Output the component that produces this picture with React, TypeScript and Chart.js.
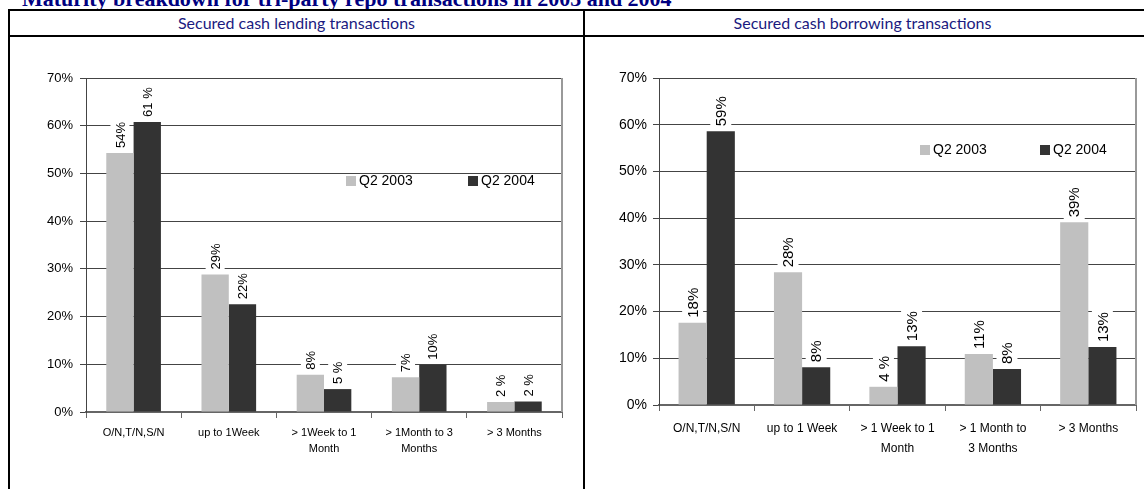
import React, { useEffect, useRef } from "react";
import { Chart, registerables } from "chart.js";

Chart.register(...registerables);

// ---------- data ----------
const seriesNames = ["Q2 2003", "Q2 2004"];
const seriesColors = ["#C0C0C0", "#333333"];

const lendingCategories: (string | string[])[] = [
  "O/N,T/N,S/N",
  "up to 1Week",
  ["> 1Week to 1", "Month"],
  ["> 1Month to 3", "Months"],
  "> 3 Months",
];
const lendingQ2003 = [54.3, 28.8, 7.8, 7.3, 2.1];
const lendingQ2004 = [60.8, 22.6, 4.8, 9.9, 2.2];
const lendingLabels2003 = ["54%", "29%", "8%", "7%", "2 %"];
const lendingLabels2004 = ["61 %", "22%", "5 %", "10%", "2 %"];

const borrowingCategories: (string | string[])[] = [
  "O/N,T/N,S/N",
  "up to 1 Week",
  ["> 1 Week to 1", "Month"],
  ["> 1 Month to", "3 Months"],
  "> 3 Months",
];
const borrowingQ2003 = [17.6, 28.4, 3.9, 10.9, 39.1];
const borrowingQ2004 = [58.6, 8.1, 12.6, 7.7, 12.4];
const borrowingLabels2003 = ["18%", "28%", "4 %", "11%", "39%"];
const borrowingLabels2004 = ["59%", "8%", "13%", "8%", "13%"];

const yTicks = [0, 10, 20, 30, 40, 50, 60, 70];

// ---------- plugins ----------
const barLabelPlugin = {
  id: "barLabels",
  afterDatasetsDraw(chart: any, _args: any, opts: any) {
    const ctx = chart.ctx;
    const labels: string[][] = opts.labels || [];
    ctx.save();
    ctx.font = `${opts.fontSize || 13}px Arial, "Liberation Sans", sans-serif`;
    chart.data.datasets.forEach((ds: any, di: number) => {
      const meta = chart.getDatasetMeta(di);
      meta.data.forEach((bar: any, i: number) => {
        const text = labels[di] ? labels[di][i] : "";
        if (!text) return;
        const w = ctx.measureText(text).width;
        const fs = opts.fontSize || 13;
        const gap = opts.gap ?? 5;
        const x = bar.x;
        const yBottom = bar.y - gap;
        // white box
        ctx.fillStyle = "#ffffff";
        ctx.fillRect(x - fs / 2 - 3, yBottom - w - 3, fs + 6, w + 5);
        ctx.save();
        ctx.translate(x, yBottom);
        ctx.rotate(-Math.PI / 2);
        ctx.fillStyle = "#000000";
        ctx.textAlign = "left";
        ctx.textBaseline = "middle";
        ctx.fillText(text, 0, 1);
        ctx.restore();
      });
    });
    ctx.restore();
  },
};

const innerLegendPlugin = {
  id: "innerLegend",
  afterDraw(chart: any, _args: any, opts: any) {
    const ctx = chart.ctx;
    const area = chart.chartArea;
    ctx.save();
    ctx.font = `${opts.fontSize || 13}px Arial, "Liberation Sans", sans-serif`;
    ctx.textBaseline = "middle";
    ctx.textAlign = "left";
    chart.data.datasets.forEach((ds: any, i: number) => {
      const x = area.left + opts.dx + i * opts.step;
      const y = area.top + opts.dy;
      ctx.fillStyle = ds.backgroundColor;
      ctx.fillRect(x, y - 5, 10, 10);
      ctx.fillStyle = "#000";
      ctx.fillText(ds.label, x + 13, y);
    });
    ctx.restore();
  },
};

const rightBorderPlugin = {
  id: "rightBorder",
  afterDraw(chart: any) {
    const ctx = chart.ctx;
    const a = chart.chartArea;
    ctx.save();
    ctx.strokeStyle = "#999999";
    ctx.lineWidth = 2;
    ctx.beginPath();
    ctx.moveTo(a.right, a.top);
    ctx.lineTo(a.right, a.bottom);
    ctx.stroke();
    ctx.restore();
  },
};

type PanelProps = {
  categories: (string | string[])[];
  q2003: number[];
  q2004: number[];
  labels2003: string[];
  labels2004: string[];
  width: number;
  height: number;
  yWidth: number;
  xHeight: number;
  padTop: number;
  padRight: number;
  tickPad: number;
  xFont: number;
  xLineHeight: number;
  xPad: number;
  yFont: number;
  labelFont: number;
  legendDx: number;
  legendDy: number;
  legendStep: number;
  catPct: number;
};

function Panel(p: PanelProps) {
  const ref = useRef<HTMLCanvasElement>(null);
  useEffect(() => {
    if (!ref.current) return;
    const chart = new Chart(ref.current, {
      type: "bar",
      data: {
        labels: p.categories as any,
        datasets: [
          {
            label: seriesNames[0],
            data: p.q2003,
            backgroundColor: seriesColors[0],
            borderWidth: 0,
            categoryPercentage: p.catPct,
            barPercentage: 1,
          },
          {
            label: seriesNames[1],
            data: p.q2004,
            backgroundColor: seriesColors[1],
            borderWidth: 0,
            categoryPercentage: p.catPct,
            barPercentage: 1,
          },
        ],
      },
      options: {
        responsive: false,
        animation: false,
        devicePixelRatio: 1,
        layout: { padding: { top: p.padTop, right: p.padRight, left: 0, bottom: 0 } },
        plugins: {
          legend: { display: false },
          tooltip: { enabled: false },
          barLabels: {
            labels: [p.labels2003, p.labels2004],
            fontSize: p.labelFont,
            gap: 5,
          },
          innerLegend: { dx: p.legendDx, dy: p.legendDy, step: p.legendStep, fontSize: 14 },
        } as any,
        scales: {
          x: {
            grid: {
              display: true,
              drawOnChartArea: false,
              drawTicks: true,
              tickLength: 6,
              color: "#666666",
              offset: true,
            },
            border: { display: true, color: "#666666", width: 2 },
            ticks: {
              color: "#000",
              padding: p.xPad,
              maxRotation: 0,
              autoSkip: false,
              font: { family: "Arial, 'Liberation Sans', sans-serif", size: p.xFont, lineHeight: p.xLineHeight },
            },
            afterFit: (s: any) => {
              s.height = p.xHeight;
            },
          },
          y: {
            min: 0,
            max: 70,
            afterBuildTicks: (s: any) => {
              s.ticks = yTicks.map((v) => ({ value: v }));
            },
            grid: { color: "#444444", lineWidth: 1, tickLength: 6 },
            border: { display: true, color: "#444444", width: 1 },
            ticks: {
              color: "#000",
              padding: p.tickPad,
              font: { family: "Arial, 'Liberation Sans', sans-serif", size: p.yFont },
              callback: (v: any) => `${v}%`,
            },
            afterFit: (s: any) => {
              s.width = p.yWidth;
            },
          },
        },
      },
      plugins: [barLabelPlugin, innerLegendPlugin, rightBorderPlugin],
    });
    return () => chart.destroy();
  }, []);
  return (
    <canvas
      ref={ref}
      width={p.width}
      height={p.height}
      style={{ width: p.width, height: p.height, display: "block" }}
    />
  );
}

const navy = "#1a1a80";

export default function App() {
  return (
    <div
      style={{
        position: "absolute",
        left: 0,
        top: 0,
        width: 1144,
        height: 489,
        overflow: "hidden",
        background: "#fff",
      }}
    >
      <div
        style={{
          position: "absolute",
          left: 22,
          top: -12,
          whiteSpace: "nowrap",
          fontFamily: "'Liberation Serif', 'Times New Roman', serif",
          fontWeight: "bold",
          fontSize: 22,
          lineHeight: "22px",
          color: "#000080",
        }}
      >
        Maturity breakdown for tri-party repo transactions in 2003 and 2004
      </div>
      {/* table lines */}
      <div style={{ position: "absolute", left: 8, top: 9, width: 1140, height: 2, background: "#000" }} />
      <div style={{ position: "absolute", left: 8, top: 35, width: 1140, height: 2, background: "#000" }} />
      <div style={{ position: "absolute", left: 8, top: 9, width: 2, height: 490, background: "#000" }} />
      <div style={{ position: "absolute", left: 583, top: 9, width: 2, height: 490, background: "#000" }} />
      <div
        style={{
          position: "absolute",
          left: 10,
          top: 11,
          width: 573,
          height: 24,
          lineHeight: "24px",
          textAlign: "center",
          fontFamily: "Lato, 'Open Sans', sans-serif",
          fontSize: 16,
          color: navy,
        }}
      >
        Secured cash lending transactions
      </div>
      <div
        style={{
          position: "absolute",
          left: 585,
          top: 11,
          width: 555,
          height: 24,
          lineHeight: "24px",
          textAlign: "center",
          fontFamily: "Lato, 'Open Sans', sans-serif",
          fontSize: 16,
          color: navy,
        }}
      >
        Secured cash borrowing transactions
      </div>
      <div style={{ position: "absolute", left: 10, top: 40 }}>
        <Panel
          categories={lendingCategories}
          q2003={lendingQ2003}
          q2004={lendingQ2004}
          labels2003={lendingLabels2003}
          labels2004={lendingLabels2004}
          width={566}
          height={440}
          yWidth={76}
          xHeight={68}
          padTop={38}
          padRight={14}
          tickPad={7}
          xFont={11}
          xLineHeight={1.45}
          xPad={7}
          yFont={13}
          labelFont={13}
          legendDx={260}
          legendDy={103}
          legendStep={122}
          catPct={0.574}
        />
      </div>
      <div style={{ position: "absolute", left: 586, top: 40 }}>
        <Panel
          categories={borrowingCategories}
          q2003={borrowingQ2003}
          q2004={borrowingQ2004}
          labels2003={borrowingLabels2003}
          labels2004={borrowingLabels2004}
          width={556}
          height={440}
          yWidth={73}
          xHeight={75}
          padTop={38}
          padRight={6}
          tickPad={6}
          xFont={12}
          xLineHeight={1.67}
          xPad={8}
          yFont={14}
          labelFont={15}
          legendDx={261}
          legendDy={72}
          legendStep={120}
          catPct={0.59}
        />
      </div>
    </div>
  );
}
